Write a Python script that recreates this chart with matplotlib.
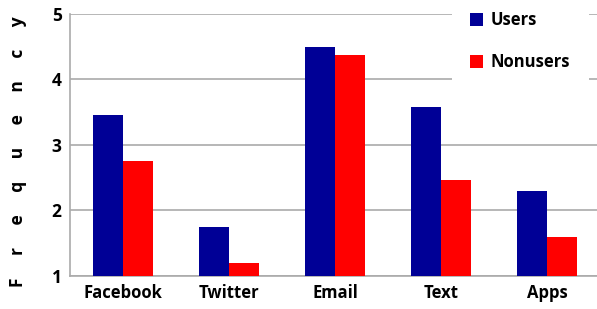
import matplotlib
matplotlib.use("Agg")
import matplotlib.pyplot as plt
import numpy as np

categories = ["Facebook", "Twitter", "Email", "Text", "Apps"]
users = [3.45, 1.74, 4.49, 3.58, 2.30]
nonusers = [2.76, 1.19, 4.38, 2.46, 1.59]
series_labels = ["Users", "Nonusers"]
yticks = [1, 2, 3, 4, 5]

plt.rcParams['font.family'] = ['Open Sans', 'DejaVu Sans']

fig = plt.figure(figsize=(5.97, 3.09), dpi=100)
ax = fig.add_axes([0.117, 0.107, 0.883, 0.848])

x = np.arange(len(categories))
w = 0.285
ax.bar(x - w/2, np.array(users) - 1, w, bottom=1, color="#000096", label=series_labels[0], zorder=3)
ax.bar(x + w/2, np.array(nonusers) - 1, w, bottom=1, color="#FF0000", label=series_labels[1], zorder=3)

ax.set_xlim(-0.5, 4.47)
ax.set_ylim(1, 5)
ax.set_yticks(yticks)
ax.set_xticks(x)
ax.set_xticklabels(categories, fontsize=12, fontweight='bold')
ax.set_yticklabels([str(t) for t in yticks], fontsize=12.5, fontweight='bold')
ax.tick_params(length=0, pad=6)
ax.yaxis.grid(True, color="#aaaaaa", linewidth=1.2, zorder=0)
ax.set_axisbelow(True)
for s in ["top", "right"]:
    ax.spines[s].set_visible(False)
for s in ["left", "bottom"]:
    ax.spines[s].set_color("#aaaaaa")
    ax.spines[s].set_linewidth(1.2)

fig.text(0.03, 0.51, "F     r     e     q     u     e     n     c     y", rotation=90, fontsize=12.5,
         fontweight='bold', ha='center', va='center')

leg = ax.legend(loc='upper left', bbox_to_anchor=(0.743, 1.05), bbox_transform=fig.transFigure,
                frameon=True, facecolor='white', edgecolor='none', framealpha=1,
                handlelength=0.78, handleheight=0.85, labelspacing=1.45, handletextpad=0.45,
                borderpad=1.1, prop={'size': 12, 'weight': 'bold'})
leg.set_zorder(5)

fig.savefig("out.png", dpi=100)
